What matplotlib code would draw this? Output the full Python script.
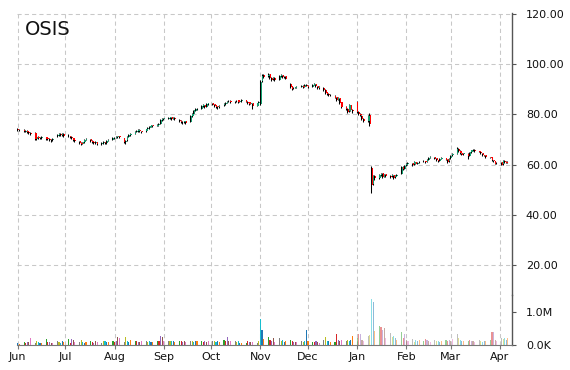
import matplotlib
matplotlib.use("Agg")
import matplotlib.pyplot as plt
import matplotlib.dates as mdates
from matplotlib.colors import to_rgba
import pandas as pd

# ---------------- data (open, high, low, close) per trading day ----------------
jun = [(74.2,74.6,73.5,73.8),(73.9,74.2,73.3,73.6),(73.7,74.0,72.9,73.2),(73.1,73.8,72.9,73.4),
       (73.5,73.7,72.5,72.8),(72.9,73.2,72.2,72.6),(72.7,73.0,71.8,72.2),(72.6,72.8,69.6,70.0),
       (70.1,71.2,69.8,70.8),(70.9,71.3,70.1,70.5),(70.4,71.0,70.0,70.6),(70.6,71.2,70.3,70.8),
       (70.9,71.1,69.9,70.3),(70.4,70.7,69.6,70.0),(70.1,70.4,69.4,69.8),(69.9,70.2,69.0,69.6),
       (69.7,70.6,69.4,70.2),(71.2,72.2,71.0,71.8),(71.8,72.6,71.5,72.2),(72.3,72.5,71.4,71.8),
       (71.7,72.4,71.5,72.0),(72.1,72.4,71.1,71.5)]
jul = [(71.6,72.0,71.0,71.4),(71.3,71.5,70.7,71.0),(71.1,71.3,70.2,70.5),(70.4,70.7,69.5,69.8),
       (69.9,70.1,69.0,69.3),(69.2,69.4,68.2,68.6),(68.7,68.9,67.8,68.3),(68.2,69.1,68.0,68.8),
       (68.9,70.1,68.7,69.8),(69.9,70.4,69.6,70.0),(70.0,70.2,69.0,69.3),(69.4,69.6,68.6,69.0),
       (69.1,69.3,68.1,68.5),(68.4,69.2,68.2,68.8),(68.9,69.0,67.8,68.2),(68.3,68.9,67.9,68.6),
       (68.5,69.3,68.3,68.9),(69.0,69.1,68.0,68.4),(68.5,69.8,68.3,69.5),(69.4,70.1,69.2,69.8),
       (69.9,70.8,69.6,70.4)]
aug = [(70.5,71.0,70.2,70.6),(70.7,71.2,70.4,70.9),(70.8,71.5,70.6,71.2),(71.3,71.4,70.4,70.8),
       (70.5,70.7,68.5,69.0),(69.1,69.8,68.2,69.5),(69.6,71.3,69.4,71.0),(71.1,72.1,70.9,71.8),
       (71.7,72.4,71.5,72.0),(72.2,73.3,72.0,73.0),(73.1,73.7,72.8,73.4),(73.3,74.1,73.1,73.8),
       (73.9,74.0,72.9,73.2),(73.3,73.5,72.7,73.0),(73.2,74.3,73.0,74.0),(74.1,74.8,73.9,74.5),
       (74.5,75.5,74.3,75.2),(75.1,75.9,74.9,75.6),(75.7,75.9,75.0,75.4),(75.4,76.1,75.2,75.8),
       (75.9,76.4,75.5,76.0),(76.2,78.0,76.0,77.6),(77.6,78.6,77.3,78.2)]
sep = [(78.1,78.7,77.9,78.4),(78.3,78.9,78.1,78.6),(78.5,79.1,78.3,78.8),(78.9,79.0,77.9,78.2),
       (78.3,78.9,78.1,78.6),(78.7,78.8,77.7,78.0),(77.9,78.1,77.0,77.4),(77.5,77.7,76.6,77.0),
       (77.1,77.3,76.3,76.8),(76.9,77.5,76.6,77.2),(77.3,77.4,76.2,76.6),(77.0,79.7,76.8,79.4),
       (79.3,80.5,79.0,80.2),(80.3,81.9,80.1,81.6),(81.5,82.5,81.3,82.2),(82.3,82.6,81.7,82.0),
       (82.2,83.5,82.0,83.2),(83.1,83.9,82.9,83.6),(83.7,83.8,82.7,83.0),(83.0,84.3,82.8,84.0),
       (84.1,84.6,83.8,84.2)]
oct_ = [(84.3,84.6,83.5,83.8),(83.9,84.1,83.0,83.4),(83.5,83.7,82.6,83.0),(83.1,83.3,82.3,82.8),
        (82.9,83.7,82.7,83.4),(83.5,84.3,83.3,84.0),(84.0,84.9,83.8,84.6),(84.5,85.3,84.3,85.0),
        (85.1,85.6,84.9,85.2),(85.3,85.5,84.5,84.8),(84.8,85.3,84.6,85.0),(85.1,85.8,84.9,85.4),
        (85.5,85.6,84.5,84.8),(84.9,85.5,84.7,85.2),(85.2,86.0,85.0,85.6),(85.7,85.8,84.7,85.0),
        (85.0,85.2,84.2,84.6),(84.7,84.9,83.7,84.0),(84.1,84.7,83.9,84.4),(84.5,84.6,82.0,83.2),
        (83.3,84.6,83.1,84.4),(84.3,85.1,84.1,84.8)]
nov = [(84.0,93.6,83.6,93.0),(93.2,96.2,92.8,95.4),(95.5,96.0,94.6,95.0),(95.2,96.5,95.0,95.8),
       (95.9,96.1,94.2,94.6),(94.5,94.9,93.4,93.8),(93.9,94.8,93.6,94.4),(94.5,94.7,93.2,93.6),
       (93.7,95.5,93.5,95.2),(95.1,96.0,94.9,95.6),(95.7,95.8,94.5,94.8),(94.8,95.3,94.6,95.0),
       (95.1,95.2,93.9,94.2),(92.0,92.3,90.6,91.0),(91.1,91.3,89.8,90.2),(90.3,90.9,90.1,90.6),
       (90.6,90.8,90.3,90.6),(90.7,91.3,90.5,91.0),(91.0,91.6,90.8,91.2),(91.3,91.5,90.5,90.8),
       (90.9,91.9,90.7,91.6),(91.7,91.9,91.1,91.4)]
dec = [(91.3,91.8,90.6,91.0),(91.0,92.0,90.8,91.6),(91.7,92.4,91.5,92.0),(92.0,92.2,90.9,91.2),
       (91.1,91.4,90.1,90.4),(90.4,91.1,90.2,90.8),(90.6,90.9,89.3,89.6),(89.7,90.0,88.2,88.6),
       (88.7,88.9,87.6,88.0),(88.1,88.4,87.2,87.6),(87.5,88.1,87.3,87.8),(87.3,87.6,86.3,86.6),
       (86.7,87.0,85.4,85.8),(85.7,86.7,85.5,86.4),(86.5,86.6,84.2,84.6),(84.7,84.9,82.5,83.0),
       (82.9,83.3,81.6,82.0),(82.1,82.4,80.6,81.0),(81.2,83.9,80.9,83.6),(83.5,83.7,81.4,81.8),
       (81.9,82.2,80.7,81.2)]
jan = [(84.8,85.1,80.4,80.8),(80.9,81.3,79.6,80.0),(80.1,80.5,79.2,79.6),(79.5,79.8,77.6,78.0),
       (78.1,78.4,76.8,77.2),(77.3,79.8,77.0,79.4),(79.6,80.4,75.2,76.0),(58.8,59.4,48.5,52.0),
       (52.4,55.8,51.8,55.5),(55.6,56.0,53.8,54.6),(54.8,56.2,54.4,55.8),(55.9,56.8,55.5,56.4),
       (56.5,56.7,54.8,55.2),(55.1,56.3,54.9,56.0),(56.1,56.2,55.1,55.6),(55.5,55.8,54.6,55.2),
       (55.3,56.2,55.1,55.8),(55.9,56.0,54.4,54.8),(54.9,55.9,54.7,55.6),(55.5,56.3,55.3,56.0),
       (56.3,59.4,56.1,59.0),(59.2,59.5,57.8,58.2),(58.3,59.9,58.1,59.6)]
feb = [(59.7,60.5,59.5,60.2),(60.3,60.9,60.0,60.6),(60.5,60.7,59.4,60.0),(60.1,61.3,59.9,61.0),
       (61.1,61.2,60.1,60.4),(60.4,61.1,60.2,60.8),(60.9,61.5,60.7,61.2),(61.3,61.7,61.0,61.4),
       (61.5,61.6,60.7,61.0),(61.1,62.1,60.9,61.8),(61.9,62.9,61.7,62.6),(62.7,63.4,62.5,63.0),
       (63.1,63.2,62.1,62.4),(62.5,62.6,61.5,61.8),(61.9,62.0,61.1,61.4),(61.5,62.5,61.3,62.2),
       (62.3,62.9,62.1,62.6),(62.7,62.8,61.7,62.0),(62.1,62.3,60.8,61.2),(61.3,62.7,61.1,62.4)]
mar = [(62.5,63.8,62.3,63.6),(63.7,64.5,63.5,64.2),(64.3,66.8,64.1,66.2),(66.3,66.5,65.1,65.4),
       (65.5,65.6,64.1,64.4),(64.5,64.7,63.7,64.0),(64.1,64.7,63.9,64.4),(64.3,64.5,62.4,63.4),
       (63.5,65.1,63.3,64.8),(64.9,65.9,64.7,65.6),(65.7,66.2,65.5,65.8),(65.9,66.0,65.0,65.2),
       (65.3,65.5,64.8,65.0),(65.1,65.2,64.1,64.4),(64.5,64.6,63.5,63.8),(63.9,64.0,63.3,63.6),
       (63.7,63.8,62.7,63.0),(63.1,63.2,62.5,62.8),(62.9,63.0,61.5,61.8),(61.9,62.0,61.1,61.4),
       (61.5,61.6,60.1,60.4),(60.5,61.1,60.3,60.8)]
apr = [(60.9,61.1,59.8,60.0),(60.1,61.9,59.9,61.6),(61.5,61.8,60.7,61.0),(61.1,61.3,60.5,60.8),
       (60.9,61.4,60.6,61.0)]

# volume in thousands of shares, per trading day
vol_jun = [60,40,80,70,90,100,220,60,120,80,70,60,180,100,90,70,60,110,90,70,120,80]
vol_jul = [180,60,170,140,90,80,150,100,70,90,110,80,60,120,90,70,110,120,90,80,130]
vol_aug = [90,110,240,220,100,250,120,90,140,110,120,100,90,110,130,90,120,100,90,110,120,270,250]
vol_sep = [120,130,120,110,120,100,130,110,90,120,100,110,120,100,110,130,120,100,110,90,120]
vol_oct = [110,120,100,130,90,140,120,240,110,130,120,100,110,60,70,60,120,90,100,80,60,120]
vol_nov = [800,450,180,230,150,120,210,100,200,120,160,90,110,150,120,100,80,90,120,100,110,450]
vol_dec = [120,100,90,110,80,60,150,230,120,110,90,100,330,150,120,160,110,140,130,150,270]
vol_jan = [200,330,320,150,120,270,300,1390,1300,420,580,560,450,500,200,350,250,270,200,150,380,220,320]
vol_feb = [150,120,180,100,160,120,140,110,180,150,120,100,140,120,110,90,120,140,130,150]
vol_mar = [130,180,320,200,140,130,110,120,160,110,130,100,140,120,100,110,130,150,400,380,150,130]
vol_apr = [200,180,220,150,200]

ticker = "OSIS"
price_ticks = [20, 40, 60, 80, 100, 120]

# ---------------- assemble ----------------
ohlc = jun + jul + aug + sep + oct_ + nov + dec + jan + feb + mar + apr
vols = (vol_jun + vol_jul + vol_aug + vol_sep + vol_oct + vol_nov + vol_dec +
        vol_jan + vol_feb + vol_mar + vol_apr)
dates = pd.bdate_range("2017-06-01", "2018-04-06")
n = min(len(dates), len(ohlc), len(vols))
dates = dates[:n]
df = pd.DataFrame(ohlc[:n], columns=["o", "h", "l", "c"], index=dates)
df["v"] = [v * 1000 for v in vols[:n]]
x = mdates.date2num(df.index.to_pydatetime())

plt.rcParams["font.family"] = ["DejaVu Sans"]

fig = plt.figure(figsize=(5.7, 3.7), dpi=100)
W, H = 570.0, 370.0
L, R = 17, 512
top_p, bot_p, bot_v = 13, 295, 345
axp = fig.add_axes([L / W, (H - bot_p) / H, (R - L) / W, (bot_p - top_p) / H])
axv = fig.add_axes([L / W, (H - bot_v) / H, (R - L) / W, (bot_v - bot_p) / H], sharex=axp)

grid_kw = dict(color="#c8c8c8", linestyle=(0, (4, 3)), linewidth=0.75)

# candles: black wick on the left, coloured body beside it
up = df["c"] >= df["o"]
green = "#12a070"
red = "#ff0000"
axp.vlines(x - 0.3, df["l"], df["h"], color="black", linewidth=0.75, zorder=3)
body_h = (df["c"] - df["o"]).values
body_h = [b if abs(b) > 0.2 else 0.2 for b in body_h]
axp.bar(x + 0.05, body_h, bottom=df["o"], width=0.75, align="edge",
        color=[green if u else red for u in up], linewidth=0, zorder=4)

# volume
cycle = plt.rcParams["axes.prop_cycle"].by_key()["color"]
cut = mdates.date2num(pd.Timestamp("2018-01-01").to_pydatetime())
vcolors = [to_rgba(cycle[i % len(cycle)], 1.0 if xi < cut else 0.5) for i, xi in enumerate(x)]
axv.bar(x, df["v"], width=0.7, color=vcolors, linewidth=0, zorder=3)

# limits
x0 = mdates.date2num(pd.Timestamp("2017-06-01").to_pydatetime()) - 0.5
x1 = mdates.date2num(pd.Timestamp("2018-04-08").to_pydatetime()) + 0.6
axp.set_xlim(x0, x1)
axp.set_ylim(8.1, 120.3)
axv.set_ylim(0, 1.515e6)

# axes styling
for ax in (axp, axv):
    ax.set_facecolor("none")
    ax.spines["top"].set_visible(False)
    ax.spines["left"].set_visible(False)
    ax.spines["right"].set_color("#555555")
    ax.spines["right"].set_linewidth(1.0)
    ax.yaxis.tick_right()
    ax.grid(True, axis="x", **grid_kw)
    ax.set_axisbelow(True)
axp.spines["bottom"].set_visible(False)
axv.spines["bottom"].set_color("#777777")
axp.grid(True, axis="y", **grid_kw)

axp.set_yticks(price_ticks)
axp.set_yticklabels([f"{t:.2f}" for t in price_ticks])
axp.tick_params(axis="y", direction="out", length=3, pad=7, labelsize=8,
                color="#555555", labelcolor="#111111")
axp.tick_params(axis="x", length=0, labelbottom=False)

axv.set_yticks([0, 1e6])
axv.set_yticklabels(["0.0K", "1.0M"])
axv.tick_params(axis="y", direction="out", length=3, pad=7, labelsize=8,
                color="#555555", labelcolor="#111111")

axv.xaxis.set_major_locator(mdates.MonthLocator())
axv.xaxis.set_major_formatter(mdates.DateFormatter("%b"))
axv.tick_params(axis="x", direction="out", length=3, pad=2, labelsize=8,
                color="#777777", labelcolor="#111111")

fig.text(25 / W, 1 - 20 / H, ticker, fontsize=14, va="top", ha="left", color="#111111")

fig.savefig("out.png", dpi=100)
